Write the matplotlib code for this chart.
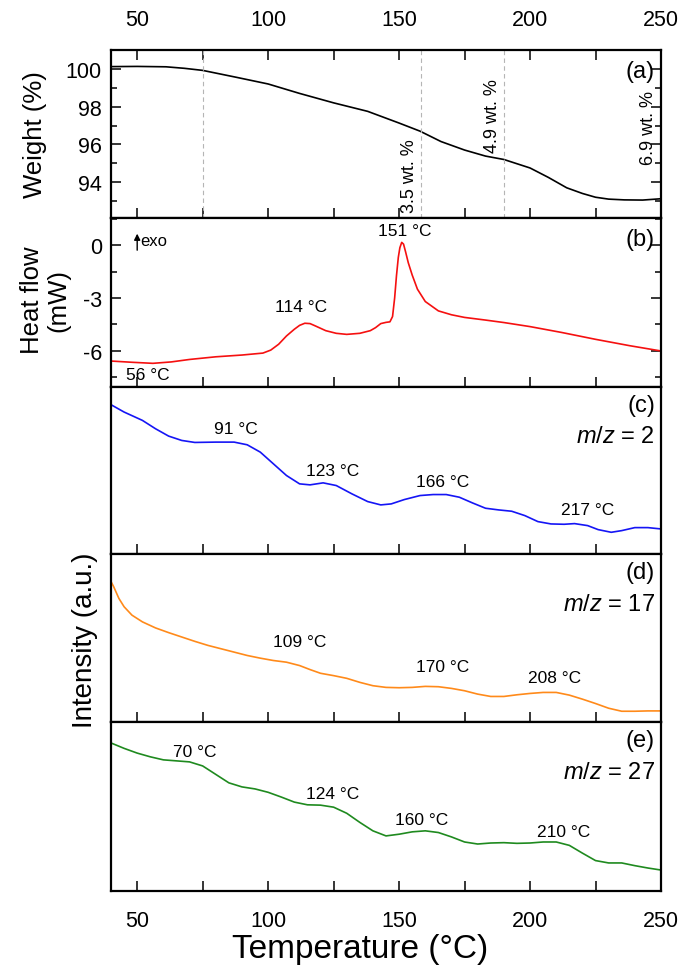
import matplotlib.pyplot as plt
from matplotlib.ticker import MultipleLocator

plt.rcParams['font.family'] = ['Liberation Sans', 'DejaVu Sans']
plt.rcParams['mathtext.fontset'] = 'custom'
plt.rcParams['mathtext.it'] = 'Liberation Sans:italic'
plt.rcParams['mathtext.rm'] = 'Liberation Sans'
plt.rcParams['axes.unicode_minus'] = False

# TGA: weight loss
tga_t = [40, 50, 61, 68, 75, 88, 100, 112, 125, 138, 150, 158, 166, 175, 183, 190,
         200, 207, 214, 220, 225, 230, 236, 243, 250]
tga_w = [100.12, 100.13, 100.11, 100.03, 99.92, 99.55, 99.2, 98.7, 98.2, 97.75, 97.13,
         96.7, 96.15, 95.7, 95.38, 95.2, 94.75, 94.25, 93.7, 93.4, 93.2, 93.1, 93.06,
         93.05, 93.12]
tga_marks = [75, 158.5, 190]

# DSC: heat flow
dsc_t = [40, 48, 56, 63, 70, 80, 90, 98, 101, 104, 107, 110, 112, 114, 116, 118, 122,
         126, 130, 135, 139, 141, 143, 145, 146.5, 147.5, 148.3, 149, 149.7, 150.3,
         151, 151.7, 152.5, 153.5, 155, 157, 160, 165, 170, 175, 183, 190, 200, 212,
         225, 238, 250]
dsc_q = [-6.57, -6.64, -6.70, -6.62, -6.48, -6.33, -6.23, -6.12, -5.95, -5.62, -5.15,
         -4.77, -4.55, -4.43, -4.45, -4.58, -4.85, -5.0, -5.06, -5.0, -4.85, -4.68,
         -4.45, -4.38, -4.35, -4.05, -3.0, -1.74, -0.7, -0.15, 0.15, 0.05, -0.4, -1.0,
         -1.7, -2.5, -3.2, -3.73, -3.95, -4.1, -4.25, -4.39, -4.62, -4.95, -5.34,
         -5.7, -6.0]

# MS ion currents, arbitrary units
ms2_t = [40, 45, 52, 57, 62, 67, 72, 80, 87, 92, 97, 102, 107, 112, 116, 121, 126, 132,
         138, 143, 147, 152, 158, 163, 168, 173, 178, 183, 188, 193, 198, 203, 208, 213,
         217, 222, 226, 231, 235, 240, 245, 250]
ms2_i = [4.47, 4.25, 4.0, 3.75, 3.53, 3.4, 3.34, 3.35, 3.35, 3.27, 3.05, 2.7, 2.35, 2.1,
         2.07, 2.13, 2.05, 1.8, 1.57, 1.47, 1.5, 1.63, 1.75, 1.78, 1.78, 1.7, 1.53, 1.37,
         1.32, 1.28, 1.15, 0.97, 0.9, 0.89, 0.91, 0.85, 0.73, 0.65, 0.7, 0.79, 0.79, 0.75]

ms17_t = [40, 41, 43, 45, 48, 52, 57, 62, 67, 72, 77, 82, 87, 92, 97, 102, 107, 112, 116,
          120, 125, 130, 135, 140, 145, 150, 155, 160, 165, 170, 175, 180, 185, 190, 195,
          200, 205, 210, 215, 220, 225, 230, 235, 240, 245, 250]
ms17_i = [4.18, 4.03, 3.68, 3.43, 3.18, 2.98, 2.8, 2.66, 2.53, 2.4, 2.28, 2.18, 2.08,
          1.98, 1.9, 1.83, 1.78, 1.68, 1.56, 1.45, 1.38, 1.3, 1.18, 1.08, 1.03, 1.02,
          1.03, 1.06, 1.05, 1.0, 0.93, 0.83, 0.76, 0.76, 0.81, 0.85, 0.88, 0.88, 0.8,
          0.68, 0.55, 0.41, 0.32, 0.32, 0.33, 0.33]

ms27_t = [40, 45, 50, 55, 60, 65, 70, 75, 80, 85, 90, 95, 100, 105, 110, 115, 120, 125,
          130, 135, 140, 145, 150, 155, 160, 165, 170, 175, 180, 185, 190, 195, 200, 205,
          210, 215, 220, 225, 230, 235, 240, 245, 250]
ms27_i = [4.38, 4.22, 4.08, 3.97, 3.88, 3.85, 3.82, 3.7, 3.45, 3.2, 3.08, 3.02, 2.92,
          2.78, 2.63, 2.55, 2.54, 2.48, 2.3, 2.03, 1.78, 1.63, 1.68, 1.75, 1.78, 1.73,
          1.6, 1.45, 1.39, 1.42, 1.43, 1.41, 1.42, 1.45, 1.45, 1.35, 1.12, 0.9, 0.83,
          0.83, 0.75, 0.68, 0.62]

TICK_FS = 15.5
NOTE_FS = 12.5
TAG_FS = 17

fig = plt.figure(figsize=(6.82, 9.7), dpi=100)
W, H = 682, 970
left, right = 111, 661
edges = [51, 219, 388, 555, 723, 892]
axes = []
for i in range(5):
    top, bot = edges[i], edges[i + 1]
    ax = fig.add_axes([left / W, 1 - bot / H, (right - left) / W, (bot - top) / H])
    ax.set_xlim(40, 250)
    ax.xaxis.set_major_locator(MultipleLocator(50))
    ax.xaxis.set_minor_locator(MultipleLocator(25))
    ax.tick_params(axis='x', which='both', direction='in', length=7, width=1.1,
                   top=False, bottom=True, labelbottom=False, labelsize=TICK_FS)
    for s in ax.spines.values():
        s.set_linewidth(1.6)
    axes.append(ax)
ax_a, ax_b, ax_c, ax_d, ax_e = axes

# (a) weight
ax_a.plot(tga_t, tga_w, color='black', lw=1.2)
for t in tga_marks:
    ax_a.axvline(t, color='#b5b5b5', lw=0.8, ls=(0, (4, 3)))
ax_a.set_ylim(92.1, 101.0)
ax_a.yaxis.set_major_locator(MultipleLocator(2))
ax_a.yaxis.set_minor_locator(MultipleLocator(1))
ax_a.tick_params(axis='x', which='both', top=True, labeltop=True, pad=14.5)
ax_a.tick_params(axis='y', which='both', direction='in', left=True, right=True,
                 labelsize=TICK_FS, width=1.1, pad=6.5)
ax_a.tick_params(axis='y', which='major', length=7)
ax_a.tick_params(axis='y', which='minor', length=4)
ax_a.text(154, 94.38, '3.5 wt. %', rotation=90, ha='center', va='center', fontsize=13)
ax_a.text(185.5, 97.55, '4.9 wt. %', rotation=90, ha='center', va='center', fontsize=13)
ax_a.text(245.3, 96.9, '6.9 wt. %', rotation=90, ha='center', va='center', fontsize=13)
ax_a.text(0.989, 0.875, '(a)', transform=ax_a.transAxes, ha='right', va='center',
          fontsize=TAG_FS)

# (b) heat flow
ax_b.plot(dsc_t, dsc_q, color='#f51010', lw=1.2)
ax_b.set_ylim(-8.04, 1.53)
ax_b.yaxis.set_major_locator(MultipleLocator(3))
ax_b.yaxis.set_minor_locator(MultipleLocator(1.5))
ax_b.tick_params(axis='y', which='both', direction='in', left=True, right=True,
                 labelsize=TICK_FS, width=1.1, pad=6.5)
ax_b.tick_params(axis='y', which='major', length=7)
ax_b.tick_params(axis='y', which='minor', length=4)
ax_b.text(152, 0.8, '151 °C', ha='center', va='center', fontsize=NOTE_FS)
ax_b.text(112.5, -3.5, '114 °C', ha='center', va='center', fontsize=NOTE_FS)
ax_b.text(54, -7.35, '56 °C', ha='center', va='center', fontsize=NOTE_FS)
ax_b.annotate('', xy=(50, 0.8), xytext=(50, -0.45),
              arrowprops=dict(arrowstyle='-|>', color='black', lw=1, mutation_scale=9))
ax_b.text(51.2, 0.25, 'exo', ha='left', va='center', fontsize=12)
ax_b.text(0.989, 0.875, '(b)', transform=ax_b.transAxes, ha='right', va='center',
          fontsize=TAG_FS)

# (c)-(e) mass spectrometry
ms = [
    (ax_c, ms2_t, ms2_i, '#1515f5', '(c)', '2',
     [(87.5, 3.75, '91 °C'), (124.5, 2.5, '123 °C'), (166.5, 2.17, '166 °C'),
      (222, 1.32, '217 °C')]),
    (ax_d, ms17_t, ms17_i, '#ff8a1a', '(d)', '17',
     [(112, 2.4, '109 °C'), (166.5, 1.65, '170 °C'), (209.5, 1.33, '208 °C')]),
    (ax_e, ms27_t, ms27_i, '#1f8a1f', '(e)', '27',
     [(72, 4.12, '70 °C'), (124.5, 2.87, '124 °C'), (158.5, 2.13, '160 °C'),
      (213, 1.75, '210 °C')]),
]
for ax, t, inten, color, tag, mz, labels in ms:
    ax.plot(t, inten, color=color, lw=1.2)
    ax.set_ylim(0, 5)
    ax.tick_params(axis='y', left=False, right=False, labelleft=False)
    for x, y, s in labels:
        ax.text(x, y, s, ha='center', va='center', fontsize=NOTE_FS)
    ax.text(0.989, 0.895, tag, transform=ax.transAxes, ha='right', va='center',
            fontsize=TAG_FS)
    ax.text(0.989, 0.705, r'$m$/$z$ = ' + mz, transform=ax.transAxes, ha='right',
            va='center', fontsize=TAG_FS)

ax_e.tick_params(axis='x', labelbottom=True, pad=14)
ax_e.set_xlabel('Temperature (°C)', fontsize=24)
ax_e.xaxis.set_label_coords(0.453, -0.343)
ax_e.xaxis.label.set_va('center')

# axis titles placed on the figure
fig.text(35 / W, 1 - 135 / H, 'Weight (%)', rotation=90, ha='center', va='center',
         fontsize=18.5)
fig.text(45 / W, 1 - 300 / H, 'Heat flow\n(mW)', rotation=90, ha='center', va='center',
         fontsize=18.5, linespacing=1.15, multialignment='center')
fig.text(85 / W, 1 - 640 / H, 'Intensity (a.u.)', rotation=90, ha='center', va='center',
         fontsize=20)

fig.savefig('out.png', dpi=100)
